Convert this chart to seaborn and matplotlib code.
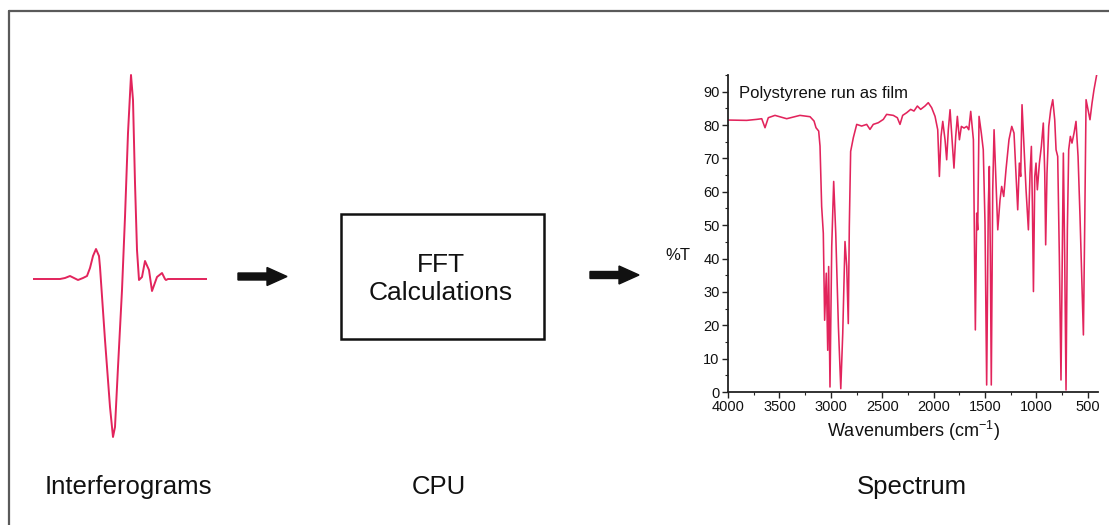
import matplotlib
matplotlib.use("Agg")
import matplotlib.pyplot as plt
from matplotlib.lines import Line2D
from matplotlib.patches import Rectangle, FancyArrow
from matplotlib.ticker import MultipleLocator
import numpy as np
import pandas as pd
import seaborn as sns

# ---- data -------------------------------------------------------------
# Interferogram: optical path difference (arbitrary units) vs detector signal
ifg_delay = [0, 27, 32, 37, 41, 45, 50, 54, 57, 60, 63, 66, 67, 72, 77, 80, 82,
             85, 89, 92, 95, 98, 100, 102, 104, 106, 108, 109, 112, 116, 119,
             124, 129, 132, 133, 135, 174]
ifg_signal = [0, 0, 1, 3, 1, -1, 1, 3, 11, 23, 30, 23, 12, -61, -128, -158,
              -148, -88, -11, 62, 146, 204, 179, 96, 29, -1, 1, 2, 18, 9,
              -12, 2, 6, 0, -1, 0, 0]

# Polystyrene film IR spectrum: wavenumber (cm-1) vs %T
wavenumber = [3997, 3818, 3721, 3672, 3640, 3608, 3543, 3429, 3300, 3202, 3163,
              3144, 3118, 3105, 3089, 3073, 3060, 3044, 3030, 3021, 3008, 2991,
              2972, 2952, 2926, 2903, 2884, 2862, 2845, 2830, 2820, 2807, 2781,
              2748, 2700, 2651, 2619, 2587, 2538, 2489, 2457, 2392, 2353, 2327,
              2301, 2262, 2223, 2191, 2158, 2126, 2084, 2052, 2019, 1986, 1960,
              1944, 1928, 1911, 1889, 1873, 1857, 1840, 1821, 1802, 1785, 1769,
              1749, 1730, 1704, 1678, 1658, 1639, 1613, 1594, 1581, 1571, 1558,
              1536, 1517, 1500, 1484, 1468, 1458, 1448, 1439, 1425, 1412, 1396,
              1376, 1354, 1338, 1318, 1296, 1267, 1240, 1218, 1198, 1182, 1166,
              1153, 1140, 1121, 1101, 1078, 1062, 1049, 1039, 1029, 1016, 1004,
              991, 971, 952, 933, 919, 910, 897, 880, 861, 841, 822, 809, 793,
              777, 761, 748, 738, 725, 712, 699, 686, 670, 654, 634, 615, 595,
              576, 556, 543, 530, 517, 498, 479, 459, 440, 410]
transmittance = [81.5, 81.4, 81.7, 81.9, 79.2, 82.2, 82.9, 81.9, 82.9, 82.5,
                 81.2, 79.2, 78.2, 73.7, 55.6, 47.6, 21.5, 35.6, 12.5, 37.6,
                 1.5, 43.6, 63.1, 47.6, 19.5, 1.0, 17.5, 45.1, 37.6, 20.5, 49.6,
                 72.1, 76.2, 80.2, 79.7, 80.2, 78.7, 80.2, 80.7, 81.7, 83.2,
                 82.9, 82.2, 80.2, 82.9, 83.7, 84.7, 84.2, 85.7, 84.7, 85.7,
                 86.7, 85.2, 82.6, 78.6, 64.6, 76.6, 81.1, 75.6, 69.6, 78.6,
                 84.6, 75.6, 67.1, 76.6, 82.6, 75.6, 79.6, 79.1, 79.6, 78.6,
                 84.1, 75.6, 18.6, 53.6, 48.6, 82.6, 77.6, 72.6, 50.6, 2.1,
                 55.6, 67.6, 40.6, 2.1, 60.6, 78.6, 65.6, 48.6, 57.6, 61.6,
                 58.6, 66.6, 75.6, 79.6, 77.6, 64.6, 54.6, 68.6, 64.6, 86.1,
                 73.6, 60.6, 48.6, 65.6, 73.6, 55.6, 30.1, 64.6, 68.6, 60.6,
                 68.6, 73.6, 80.6, 65.6, 44.1, 65.6, 79.6, 84.6, 87.6, 81.6,
                 72.6, 70.6, 40.6, 3.6, 40.6, 71.6, 40.6, 0.6, 48.6, 72.6,
                 76.6, 74.6, 77.6, 81.1, 70.6, 52.6, 30.6, 17.1, 50.6, 87.6,
                 84.6, 81.6, 86.6, 90.6, 95.7]

y_ticks = list(range(0, 100, 10))
x_ticks = [4000, 3500, 3000, 2500, 2000, 1500, 1000, 500]

stage_labels = ["Interferograms", "CPU", "Spectrum"]
box_text = "FFT\nCalculations"

# ---- style ------------------------------------------------------------
sns.set_theme(style="white")
plt.rcParams["font.family"] = ["Liberation Sans", "DejaVu Sans"]
plt.rcParams["mathtext.fontset"] = "custom"
plt.rcParams["mathtext.rm"] = "Liberation Sans"
plt.rcParams["mathtext.it"] = "Liberation Sans"

LINE = "#E2245C"
W, H = 1109, 525
fig = plt.figure(figsize=(W / 100, H / 100), dpi=100)
fig.patch.set_facecolor("white")


def fx(px):
    return px / W


def fy(py):
    return 1 - py / H


# outer frame (top and left edges)
fig.add_artist(Line2D([fx(9), fx(W + 5)], [fy(11), fy(11)], color="#5a5a5a", lw=1.6))
fig.add_artist(Line2D([fx(9), fx(9)], [fy(11), fy(H + 5)], color="#5a5a5a", lw=1.6))

# ---- interferogram ----------------------------------------------------
ax_i = fig.add_axes([fx(33), fy(449), fx(174), (449 - 64) / H])
df_i = pd.DataFrame({"delay": ifg_delay, "signal": ifg_signal})
sns.lineplot(data=df_i, x="delay", y="signal", ax=ax_i, color=LINE,
             lw=1.4, estimator=None, sort=False)
ax_i.set_xlim(0, 174)
ax_i.set_ylim(-170, 215)
ax_i.axis("off")

# ---- spectrum ---------------------------------------------------------
ax_s = fig.add_axes([fx(728), fy(392), fx(1098 - 728), (392 - 75) / H])
df_s = pd.DataFrame({"wn": wavenumber, "T": transmittance})
sns.lineplot(data=df_s, x="wn", y="T", ax=ax_s, color=LINE, lw=1.15,
             estimator=None, sort=False)
ax_s.set_xlim(4000, 401)
ax_s.set_ylim(0, 95)
ax_s.set_xticks(x_ticks)
ax_s.set_yticks(y_ticks)
ax_s.xaxis.set_minor_locator(MultipleLocator(250))
ax_s.yaxis.set_minor_locator(MultipleLocator(5))
for side in ("top", "right"):
    ax_s.spines[side].set_visible(False)
for side in ("left", "bottom"):
    ax_s.spines[side].set_color("#222222")
    ax_s.spines[side].set_linewidth(1.3)
ax_s.tick_params(which="major", direction="out", length=4, width=1,
                 color="#222222", labelsize=10.5, pad=2, labelcolor="#111111",
                 left=True, bottom=True)
ax_s.tick_params(which="minor", direction="out", length=2.5, width=0.8,
                 color="#222222", left=True, bottom=True)
ax_s.set_xlabel("Wavenumbers (cm$^{-1}$)", fontsize=13, color="#111111", labelpad=3)
ax_s.set_ylabel("%T", fontsize=12, color="#111111", rotation=0, labelpad=8,
                va="center")
ax_s.yaxis.set_label_coords(-0.135, 0.43)
ax_s.text(0.03, 0.965, "Polystyrene run as film", transform=ax_s.transAxes,
          fontsize=12, color="#111111", ha="left", va="top")
ax_s.patch.set_alpha(0)

# ---- FFT box and arrows -----------------------------------------------
fig.add_artist(Rectangle((fx(341), fy(339)), fx(544 - 341), (339 - 214) / H,
                         fill=False, ec="#111111", lw=1.8))
fig.text(fx(441), fy(279), box_text, ha="center", va="center", fontsize=19,
         linespacing=1.25, color="#111111")

for x0, x1, yy in [(238, 287, 276.5), (590, 639, 275)]:
    fig.add_artist(FancyArrow(fx(x0), fy(yy), fx(x1 - x0), 0, width=7 / H,
                              head_width=18 / H, head_length=fx(20),
                              length_includes_head=True, color="#111111",
                              transform=fig.transFigure))

# ---- stage captions ---------------------------------------------------
for label, cx in zip(stage_labels, [128, 439, 912]):
    fig.text(fx(cx), fy(487), label, ha="center", va="center", fontsize=18.5,
             color="#111111")

fig.savefig("out.png", dpi=100, facecolor="white")
